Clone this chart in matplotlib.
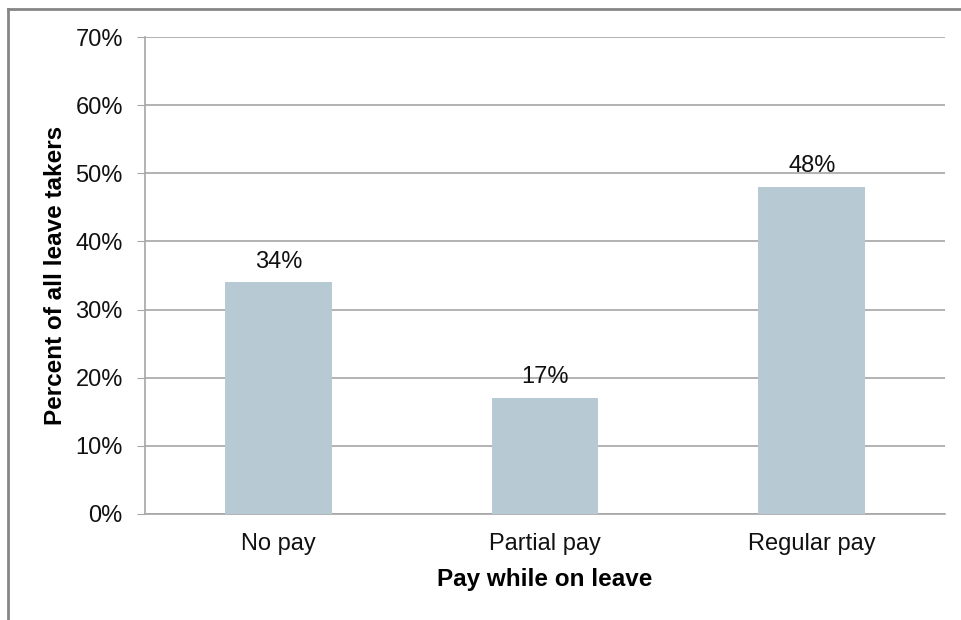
import matplotlib.pyplot as plt
from matplotlib.lines import Line2D
from matplotlib.ticker import FuncFormatter
import numpy as np

plt.rcParams['font.family'] = ['Liberation Sans', 'DejaVu Sans']

categories = ["No pay", "Partial pay", "Regular pay"]
shares = [34, 17, 48]
yticks = [0, 10, 20, 30, 40, 50, 60, 70]

bar_color = "#b7c9d3"
grid_color = "#a6a6a6"

fig = plt.figure(figsize=(9.61, 6.2), dpi=100)
ax = fig.add_axes([0.1509, 0.171, 0.8325, 0.7693])

x = np.arange(len(categories))
bars = ax.bar(x, shares, width=0.4, color=bar_color, zorder=3)

for rect, v in zip(bars, shares):
    ax.annotate(f"{v}%", (rect.get_x() + rect.get_width() / 2, v),
                xytext=(0, 7), textcoords="offset points",
                ha="center", va="bottom", fontsize=17, color="#111111")

ax.set_xlim(-0.5, len(categories) - 0.5)
ax.set_ylim(0, 70)
ax.set_yticks(yticks)
ax.yaxis.set_major_formatter(FuncFormatter(lambda v, _: f"{v:.0f}%"))
ax.set_xticks(x)
ax.set_xticklabels(categories)

ax.grid(axis="y", color=grid_color, linewidth=1.2, zorder=0)
for side in ["top", "right"]:
    ax.spines[side].set_visible(False)
ax.spines["left"].set_color(grid_color)
ax.spines["bottom"].set_color(grid_color)
ax.spines["left"].set_linewidth(1.2)
ax.spines["bottom"].set_linewidth(1.2)

ax.tick_params(axis="y", length=6, color=grid_color, labelsize=17, pad=10, labelcolor="#111111")
ax.tick_params(axis="x", length=0, labelsize=17, pad=14, labelcolor="#111111")

ax.set_ylabel("Percent of all leave takers", fontsize=17.5, fontweight="bold", labelpad=6)
ax.set_xlabel("Pay while on leave", fontsize=17.5, fontweight="bold", labelpad=9)

# outer frame (left and top edges)
fig.add_artist(Line2D([7.5 / 961, 7.5 / 961], [0, 1 - 8.5 / 620], color="#868686", linewidth=2, transform=fig.transFigure))
fig.add_artist(Line2D([7.5 / 961, 1], [1 - 8.5 / 620, 1 - 8.5 / 620], color="#868686", linewidth=2, transform=fig.transFigure))

fig.savefig("out.png", dpi=100)
